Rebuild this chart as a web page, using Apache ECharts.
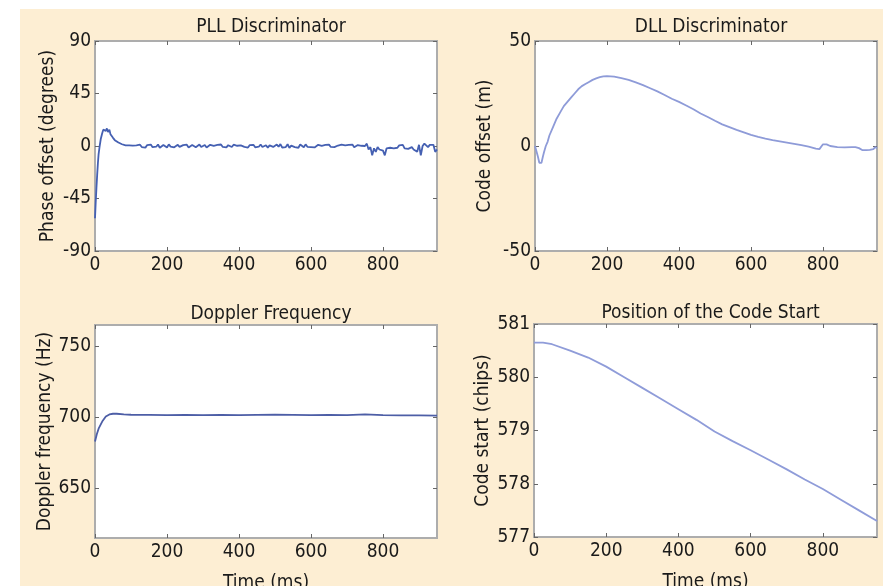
<!DOCTYPE html>
<html>
<head>
<meta charset="utf-8">
<script src="https://cdn.jsdelivr.net/npm/echarts@6/dist/echarts.min.js"></script>
<style>
html,body{margin:0;padding:0;background:#fff;}
#c{width:883px;height:586px;}
</style>
</head>
<body>
<div id="c"></div>
<script>
// ---- Data ----
var titles = ['PLL Discriminator', 'DLL Discriminator', 'Doppler Frequency', 'Position of the Code Start'];
var yNames = ['Phase offset (degrees)', 'Code offset (m)', 'Doppler frequency (Hz)', 'Code start (chips)'];
var xTicks = [0, 200, 400, 600, 800];
var dopplerTicks = [650, 700, 750];

var pllTime = [0,2,4,6,8,10,13,16,20,23,26,30,33,36,40,43,46,50,55,60,65,70,75,80,85,90,95,
  100,105,110,115,120,125,130,135,140,145,150,155,160,165,170,175,180,185,190,195,
  200,205,210,215,220,225,230,235,240,245,250,255,260,265,270,275,280,285,290,295,
  300,305,310,315,320,325,330,335,340,345,350,355,360,365,370,375,380,385,390,395,
  400,405,410,415,420,425,430,435,440,445,450,455,460,465,470,475,480,485,490,495,
  500,505,510,515,520,525,530,535,540,545,550,555,560,565,570,575,580,585,590,595,
  600,605,610,615,620,625,630,635,640,645,650,655,660,665,670,675,680,685,690,695,
  700,705,710,715,720,725,730,735,740,745,750,
  755,760,765,770,775,780,785,790,795,800,805,810,815,820,825,830,835,840,845,850,
  855,860,865,870,875,880,885,890,895,900,905,910,915,920,925,930,935,940,945,950];
var pllValues = [-62,-48,-36,-25,-15,-7,0,6,11,14,15,13,15,12,14,10,9,7,5,4,3,2,1.5,1,0.5,-0.5,0.5,
  -0.8,0.3,-1.2,0.6,-0.4,1.1,-0.9,0.2,-1.4,0.8,-0.3,1.2,-1,0.4,-0.6,1.3,-1.5,0.2,0.9,-0.7,
  -1.3,1.4,-0.5,0.8,-1.1,0.1,1,-0.8,-1.6,0.7,-0.2,1.1,-1.2,0.4,0.9,-0.6,-1,0.5,1.2,-0.9,
  -0.4,0.8,-1.3,0.3,1,-0.7,0.2,-1.1,0.9,-0.3,1.3,-0.8,0.1,-1.2,0.7,0.4,-0.9,1.1,-0.5,0.2,
  -1,0.6,1.2,-0.7,0.3,-1.3,0.8,-0.2,1,-1.1,0.4,-0.6,1.3,-0.9,0.1,0.7,-1.4,0.5,1,-0.8,
  -1.8,1.2,-0.6,1.6,-1.3,0.4,-0.9,1.5,-1.7,0.3,1.1,-1,0.6,-1.5,1.3,-0.2,-1.1,1.4,-0.7,0.5,
  -0.9,0.8,-1.2,0.3,1,-0.6,0.2,-1.1,0.9,-0.4,1.2,-0.8,0.1,-1,0.7,0.4,-1.2,1.1,-0.3,0.6,
  -0.8,0.9,-0.5,1.2,-1,0.3,0.8,-0.6,0.2,1.5,0,
  2,-3,-1,-8,-2,-5,-1,-3,-2,-4,-8,-2,-3,-1.5,-2.5,-2,-1,-1.5,0.5,-1,
  1,-2,-3,-2.5,-4,-1,-3,-2,-5,1,-8,0,2,0.5,-1,1,-0.5,1,-5,-3];

var dllTime = [0,5,8,12,18,22,25,30,35,40,50,60,70,80,90,100,110,120,130,140,150,160,170,180,190,200,210,220,240,260,280,300,320,340,360,380,400,420,440,460,480,500,520,540,560,580,600,620,640,660,680,700,720,740,760,780,790,795,800,810,820,840,860,880,890,900,910,920,930,940,945,950];
var dllValues = [0,0,-5,-8,-8,-5,-3,0,2,5,9,13,16,19,21,23,25,27,28.5,29.5,30.5,31.5,32.2,32.8,33.2,33.3,33.2,33,32.3,31.5,30.3,29,27.5,26,24.3,22.5,21,19.3,17.5,15.5,13.8,12,10.3,9,7.7,6.5,5.3,4.3,3.5,2.8,2.2,1.6,1,0.4,-0.3,-1.2,-1.5,-1.5,0.8,0.8,0,-0.5,-0.7,-0.5,-0.5,-1,-2,-2,-1.8,-1.5,-0.5,-1];

var dopTime = [0,5,10,20,30,40,50,55,60,80,100,150,200,250,300,350,400,450,500,550,600,650,700,750,800,850,900,950];
var dopValues = [683,688,692,697,700.5,702,702.5,703.5,702.5,702,701.8,701.7,701.6,701.7,701.6,701.7,701.6,701.7,701.8,701.7,701.6,701.7,701.6,702.1,701.5,701.4,701.3,701.2];

var codeTime = [0,25,50,100,150,200,250,300,350,400,450,500,550,600,650,700,750,800,850,900,950];
var codeValues = [580.65,580.65,580.62,580.5,580.37,580.2,580.0,579.8,579.6,579.4,579.2,578.98,578.8,578.63,578.45,578.27,578.08,577.9,577.7,577.5,577.3];

function pairs(t, v){ return t.map(function(x,i){ return [x, v[i]]; }); }

var FONT = "'DejaVu Sans Condensed', 'Liberation Sans Narrow', sans-serif";
var FS = 19;
var TXT = '#1a1a1a';
var grids = [
  {left:95, top:41, width:342, height:210},
  {left:535, top:41, width:342, height:210},
  {left:95, top:325, width:342, height:213},
  {left:534, top:324, width:343, height:213}
];
var titleTops = [13, 13, 300, 299];
var yCfg = [
  {min:-90, max:90, interval:45, gap:37},
  {min:-50, max:50, interval:50, gap:40},
  {min:615, max:765, custom:dopplerTicks, gap:37},
  {min:577, max:581, interval:1, gap:41}
];
var lineColors = ['#4560b2', '#8e9bd8', '#4d5ea6', '#8f9cd9'];
var lineWidths = [1.8, 1.8, 1.8, 1.8];
var seriesData = [pairs(pllTime, pllValues), pairs(dllTime, dllValues), pairs(dopTime, dopValues), pairs(codeTime, codeValues)];

var tickStyle = {color:'#666', width:1};
var xAxes = [], yAxes = [], series = [], titleArr = [];
grids.forEach(function(g, i){
  g.show = true; g.backgroundColor = '#ffffff'; g.borderColor = '#adadad'; g.borderWidth = 2;
  g.outerBoundsMode = 'none'; g.containLabel = false;
  titleArr.push({text: titles[i], left: g.left + g.width/2, top: titleTops[i], textAlign: 'center',
    textStyle: {fontFamily: FONT, fontSize: FS, fontWeight: 'normal', color: TXT}});
  var bottom = i >= 2;
  xAxes.push({type:'value', gridIndex:i, min:0, max:950,
    axisLine:{show:false, onZero:false}, splitLine:{show:false},
    axisTick:{show:true, inside:true, length:4, customValues: xTicks, lineStyle:tickStyle},
    axisLabel:{fontFamily:FONT, fontSize:FS, color:TXT, margin:5, customValues: xTicks},
    name: bottom ? 'Time (ms)' : '', nameLocation:'middle', nameGap:36,
    nameTextStyle:{fontFamily:FONT, fontSize:FS, color:TXT}});
  xAxes.push({type:'value', gridIndex:i, min:0, max:950, position:'top',
    axisLine:{show:false, onZero:false}, splitLine:{show:false}, axisLabel:{show:false},
    axisTick:{show:true, inside:true, length:4, customValues: xTicks, lineStyle:tickStyle}});
  var yc = yCfg[i];
  var ya = {type:'value', gridIndex:i, min:yc.min, max:yc.max,
    axisLine:{show:false, onZero:false}, splitLine:{show:false},
    axisTick:{show:true, inside:true, length:4, lineStyle:tickStyle},
    axisLabel:{fontFamily:FONT, fontSize:FS, color:TXT, margin:4},
    name: yNames[i], nameLocation:'middle', nameGap: yc.gap, nameRotate: 90,
    nameTextStyle:{fontFamily:FONT, fontSize:FS, color:TXT}};
  var yb = {type:'value', gridIndex:i, min:yc.min, max:yc.max, position:'right',
    axisLine:{show:false, onZero:false}, splitLine:{show:false}, axisLabel:{show:false},
    axisTick:{show:true, inside:true, length:4, lineStyle:tickStyle}};
  if (yc.custom) {
    ya.axisLabel.customValues = yc.custom; ya.axisTick.customValues = yc.custom;
    yb.axisTick.customValues = yc.custom;
  } else {
    ya.interval = yc.interval; yb.interval = yc.interval;
  }
  yAxes.push(ya); yAxes.push(yb);
  series.push({type:'line', xAxisIndex: i*2, yAxisIndex: i*2, data: seriesData[i],
    showSymbol:false, symbol:'none', smooth:false, animation:false, clip:true,
    lineStyle:{color: lineColors[i], width: lineWidths[i]}});
});

var chart = echarts.init(document.getElementById('c'), null, {renderer:'canvas'});
chart.setOption({
  animation:false,
  backgroundColor:'#ffffff',
  graphic:[{type:'rect', z:-10, shape:{x:20, y:9, width:863, height:577}, style:{fill:'#fdeed3'}}],
  title: titleArr,
  grid: grids,
  xAxis: xAxes,
  yAxis: yAxes,
  series: series
});
</script>
</body>
</html>
